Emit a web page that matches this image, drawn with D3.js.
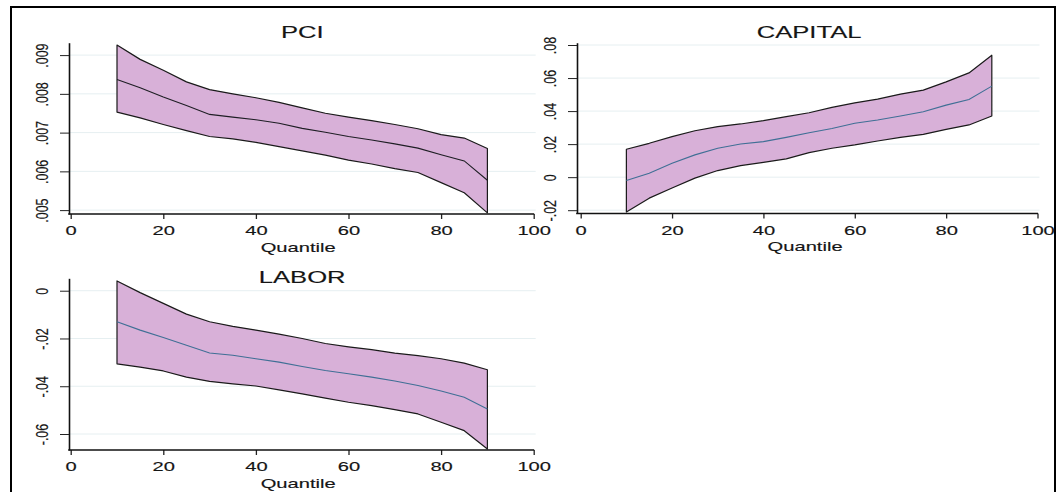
<!DOCTYPE html>
<html><head><meta charset="utf-8">
<script src="https://cdn.jsdelivr.net/npm/d3@7"></script>
<style>
html,body{margin:0;padding:0;background:#fff;}
svg{display:block;}
text{font-family:"Liberation Sans",Arial,sans-serif;fill:#151515;stroke:#151515;stroke-width:0.15px;}
</style></head>
<body>
<svg id="chart" width="1061" height="492"></svg>
<script>
const quantiles = [10,15,20,25,30,35,40,45,50,55,60,65,70,75,80,85,90];

const pciUpper  = [.00926,.00889,.00861,.00831,.00811,.00800,.00790,.00778,.00764,.00750,.00740,.00731,.00721,.00710,.00695,.00686,.00659];
const pciMedian = [.00837,.00816,.00792,.00770,.00747,.00740,.00733,.00724,.00711,.00701,.00690,.00681,.00671,.00660,.00643,.00627,.00577];
const pciLower  = [.00753,.00738,.00721,.00705,.00690,.00684,.00675,.00664,.00653,.00642,.00629,.00619,.00607,.00597,.00571,.00545,.00493];

const capUpper  = [.0169,.0205,.0245,.0281,.0306,.0322,.0342,.0366,.0390,.0422,.0450,.0472,.0503,.0527,.0577,.0631,.0738];
const capMedian = [-.0020,.0024,.0084,.0135,.0175,.0201,.0215,.0241,.0269,.0295,.0326,.0346,.0370,.0396,.0436,.0470,.0551];
const capLower  = [-.0211,-.0127,-.0066,-.0006,.0040,.0070,.0090,.0111,.0149,.0175,.0195,.0219,.0241,.0259,.0289,.0316,.0370];

const labUpper  = [.0041,-.0008,-.0053,-.0098,-.0130,-.0149,-.0165,-.0182,-.0200,-.0221,-.0235,-.0247,-.0261,-.0272,-.0285,-.0303,-.0331];
const labMedian = [-.0130,-.0165,-.0196,-.0228,-.0261,-.0270,-.0285,-.0299,-.0317,-.0334,-.0348,-.0362,-.0378,-.0397,-.0420,-.0446,-.0495];
const labLower  = [-.0306,-.0320,-.0336,-.0362,-.0380,-.0390,-.0399,-.0415,-.0432,-.0450,-.0467,-.0481,-.0498,-.0516,-.0551,-.0586,-.0663];

const xTicks = [0,20,40,60,80,100];
const pciTicks = [.005,.006,.007,.008,.009];
const pciTickLabels = [".005",".006",".007",".008",".009"];
const capTicks = [-.02,0,.02,.04,.06,.08];
const capTickLabels = ["-.02","0",".02",".04",".06",".08"];
const labTicks = [-.06,-.04,-.02,0];
const labTickLabels = ["-.06","-.04","-.02","0"];

const titles = ["PCI","CAPITAL","LABOR"];
const xTitle = "Quantile";

const panels = [
  {title:titles[0], upper:pciUpper, median:pciMedian, lower:pciLower, ticks:pciTicks, labels:pciTickLabels,
   yDomain:[.0049,.00932], axisX:69, x0:70.7, x1:533.7, top:42.7, bottom:214, medColor:"#1e1e24", titleY:37.7},
  {title:titles[1], upper:capUpper, median:capMedian, lower:capLower, ticks:capTicks, labels:capTickLabels,
   yDomain:[-.022,.0814], axisX:577, x0:580.7, x1:1037.5, top:42.7, bottom:213.5, medColor:"#3f6f95", titleY:37.7},
  {title:titles[2], upper:labUpper, median:labMedian, lower:labLower, ticks:labTicks, labels:labTickLabels,
   yDomain:[-.0667,.0052], axisX:69, x0:70.7, x1:533.7, top:278.3, bottom:450, medColor:"#3f6f95", titleY:283}
];

const S = 1.55;   // horizontal stretch of glyphs seen in the reference
const svg = d3.select("#chart");

svg.append("rect").attr("x",11).attr("y",7).attr("width",1044).attr("height",520)
  .attr("fill","none").attr("stroke","#000").attr("stroke-width",2);

panels.forEach(p => {
  const g = svg.append("g");
  const x = d3.scaleLinear().domain([0,100]).range([p.x0,p.x1]);
  const y = d3.scaleLinear().domain(p.yDomain).range([p.bottom,p.top]);

  g.append("g").selectAll("line").data(p.ticks).join("line")
    .attr("x1",p.axisX+1).attr("x2",x(100)+2)
    .attr("y1",d=>y(d)).attr("y2",d=>y(d))
    .attr("stroke","#e6eff1").attr("stroke-width",1);

  const data = quantiles.map((q,i)=>({q, u:p.upper[i], m:p.median[i], l:p.lower[i]}));

  const area = d3.area().x(d=>x(d.q)).y0(d=>y(d.l)).y1(d=>y(d.u));
  g.append("path").datum(data).attr("d",area).attr("fill","#d8b0d8").attr("stroke","none");

  const outline = d3.line().x(d=>x(d[0])).y(d=>y(d[1]));
  const ring = data.map(d=>[d.q,d.u]).concat(data.slice().reverse().map(d=>[d.q,d.l]));
  g.append("path").attr("d", outline(ring) + "Z")
    .attr("fill","none").attr("stroke","#1a1a1a").attr("stroke-width",1.2).attr("stroke-linejoin","round");

  const medLine = d3.line().x(d=>x(d.q)).y(d=>y(d.m));
  g.append("path").datum(data).attr("d",medLine)
    .attr("fill","none").attr("stroke",p.medColor).attr("stroke-width",1.1);

  const ya = g.append("g").attr("transform",`translate(${p.axisX},0)`)
    .call(d3.axisLeft(y).tickValues(p.ticks).tickSize(9).tickSizeOuter(0)
      .tickFormat((d,i)=>p.labels[i]));
  ya.select(".domain").attr("stroke","#111").attr("stroke-width",1.6);
  ya.selectAll(".tick line").attr("stroke","#222").attr("stroke-width",1);
  ya.selectAll(".tick text")
    .attr("x",null).attr("dy",null).attr("text-anchor","middle")
    .attr("font-size",12.5).attr("font-family","Liberation Sans, Arial, sans-serif").attr("fill","#1a1a1a")
    .attr("transform",`translate(-21,0) scale(1.3,1) rotate(-90)`);

  const xa = g.append("g").attr("transform",`translate(0,${p.bottom})`)
    .call(d3.axisBottom(x).tickValues(xTicks).tickSize(5).tickSizeOuter(0));
  xa.select(".domain").remove();
  xa.append("line").attr("x1",p.axisX-0.8).attr("x2",x(100)+0.5).attr("y1",0).attr("y2",0)
    .attr("stroke","#111").attr("stroke-width",1.6);
  xa.selectAll(".tick line").attr("stroke","#222").attr("stroke-width",1.3);
  xa.selectAll(".tick text")
    .attr("y",null).attr("dy",null).attr("text-anchor","middle")
    .attr("font-size",13).attr("font-family","Liberation Sans, Arial, sans-serif").attr("fill","#1a1a1a")
    .attr("transform",`translate(0,21) scale(${S},1)`);

  const cx = (p.x0+p.x1)/2;
  g.append("text").attr("text-anchor","middle").attr("font-size",13)
    .attr("transform",`translate(${cx-4},${p.bottom+37.5}) scale(${S},1)`).text(xTitle);
  g.append("text").attr("text-anchor","middle").attr("font-size",16)
    .attr("transform",`translate(${cx},${p.titleY}) scale(1.6,1)`).text(p.title);
});
</script>
</body></html>
